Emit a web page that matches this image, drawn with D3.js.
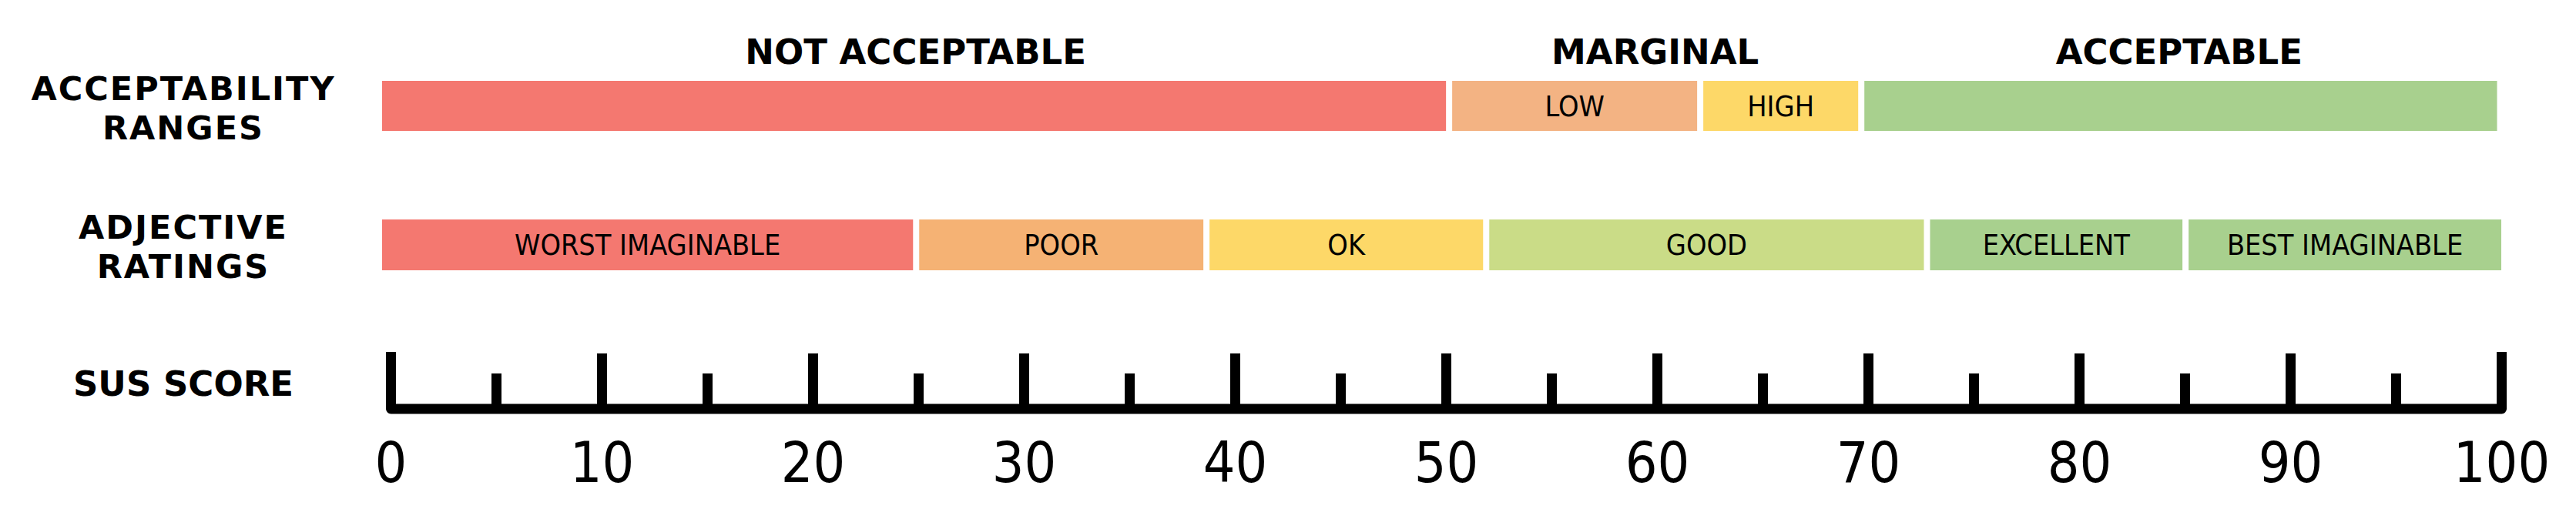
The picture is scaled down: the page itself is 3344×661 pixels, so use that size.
<!DOCTYPE html>
<html>
<head>
<meta charset="utf-8">
<script src="https://cdn.jsdelivr.net/npm/d3@7"></script>
<style>
  html, body { margin: 0; padding: 0; background: #fff; }
  svg { display: block; }
  .bold { font-family: "DejaVu Sans", Verdana, sans-serif; font-weight: bold; }
  .thin { font-family: "DejaVu Sans Condensed", "DejaVu Sans", sans-serif; font-stretch: condensed; }
</style>
</head>
<body>
<div id="chart"></div>
<script>
// row titles on the left
const rowTitles = [["ACCEPTABILITY", "RANGES"], ["ADJECTIVE", "RATINGS"], ["SUS SCORE"]];

// acceptability ranges (top row)
const rangeGroups = ["NOT ACCEPTABLE", "MARGINAL", "ACCEPTABLE"];
const rangeGroupBounds = [[0, 50.35], [50.35, 69.8], [69.8, 99.8]];
const rangeLabels = ["", "LOW", "HIGH", ""];
const rangeBounds = [0, 50.35, 62.2, 69.8, 99.8];
const rangeColors = ["#f47870", "#f3b383", "#fdd868", "#a8d08e"];

// adjective ratings (middle row)
const adjLabels = ["WORST IMAGINABLE", "POOR", "OK", "GOOD", "EXCELLENT", "BEST IMAGINABLE"];
const adjBounds = [0, 25.2, 38.9, 52.1, 72.9, 85.1, 100];
const adjColors = ["#f47870", "#f5b274", "#fdd868", "#cadc87", "#a8d08e", "#a8d08e"];

// SUS score axis
const majorTicks = [0, 10, 20, 30, 40, 50, 60, 70, 80, 90, 100];
const minorTicks = [5, 15, 25, 35, 45, 55, 65, 75, 85, 95];

const width = 3344, height = 661;
const gap = 8;

const svg = d3.select("#chart").append("svg")
  .attr("width", width)
  .attr("height", height);

const barX = d3.scaleLinear().domain([0, 100]).range([496, 3247]);
const axisX = d3.scaleLinear().domain([0, 100]).range([507, 3247]);

// left titles
const titleY = [[130, 180.5], [310, 360.5], [514]];
rowTitles.forEach((lines, r) => {
  lines.forEach((line, i) => {
    svg.append("text")
      .attr("class", "bold")
      .attr("x", 238)
      .attr("y", titleY[r][i])
      .attr("text-anchor", "middle")
      .attr("font-size", lines.length > 1 ? 43 : 45)
      .attr("letter-spacing", lines.length > 1 ? 2 : 0)
      .text(line);
  });
});

// group headers above the ranges row
svg.selectAll("text.group")
  .data(rangeGroups)
  .enter()
  .append("text")
  .attr("class", "bold group")
  .attr("x", (d, i) => (barX(rangeGroupBounds[i][0]) + barX(rangeGroupBounds[i][1])) / 2)
  .attr("y", 83)
  .attr("text-anchor", "middle")
  .attr("font-size", 45)
  .text(d => d);

function drawRow(labels, bounds, colors, y0, h) {
  const n = labels.length;
  const segs = labels.map((l, i) => ({
    label: l,
    x0: barX(bounds[i]) + (i > 0 ? gap / 2 : 0),
    x1: barX(bounds[i + 1]) - (i < n - 1 ? gap / 2 : 0),
    color: colors[i]
  }));
  const g = svg.append("g");
  g.selectAll("rect")
    .data(segs)
    .enter()
    .append("rect")
    .attr("x", d => d.x0)
    .attr("y", y0)
    .attr("width", d => d.x1 - d.x0)
    .attr("height", h)
    .attr("fill", d => d.color);
  g.selectAll("text")
    .data(segs.filter(d => d.label))
    .enter()
    .append("text")
    .attr("class", "thin")
    .attr("x", d => (d.x0 + d.x1) / 2)
    .attr("y", y0 + h / 2 + 13)
    .attr("text-anchor", "middle")
    .attr("font-size", 37.5)
    .text(d => d.label);
}

drawRow(rangeLabels, rangeBounds, rangeColors, 105, 65);
drawRow(adjLabels, adjBounds, adjColors, 285, 66);

// SUS score scale
const axisY = 530.5;
const major = svg.append("g")
  .attr("transform", "translate(0," + axisY + ")")
  .call(d3.axisTop(axisX).tickValues(majorTicks.slice(1, -1)).tickSize(71.5).tickSizeOuter(73.5).tickFormat(""));
major.select(".domain")
  .attr("stroke", "#000")
  .attr("stroke-width", 13)
  .attr("stroke-linejoin", "round")
  .attr("fill", "none");
major.selectAll(".tick line").attr("stroke", "#000").attr("stroke-width", 13);

const minor = svg.append("g")
  .attr("transform", "translate(0," + axisY + ")")
  .call(d3.axisTop(axisX).tickValues(minorTicks).tickSize(45.5).tickFormat(""));
minor.select(".domain").remove();
minor.selectAll(".tick line").attr("stroke", "#000").attr("stroke-width", 13);

const labels = svg.append("g")
  .attr("transform", "translate(0," + axisY + ")")
  .call(d3.axisBottom(axisX).tickValues(majorTicks).tickSize(0).tickPadding(43.7).tickFormat(d3.format("d")));
labels.select(".domain").remove();
labels.selectAll(".tick text")
  .attr("class", "thin")
  .attr("font-size", 73)
  .attr("fill", "#000");
</script>
</body>
</html>
